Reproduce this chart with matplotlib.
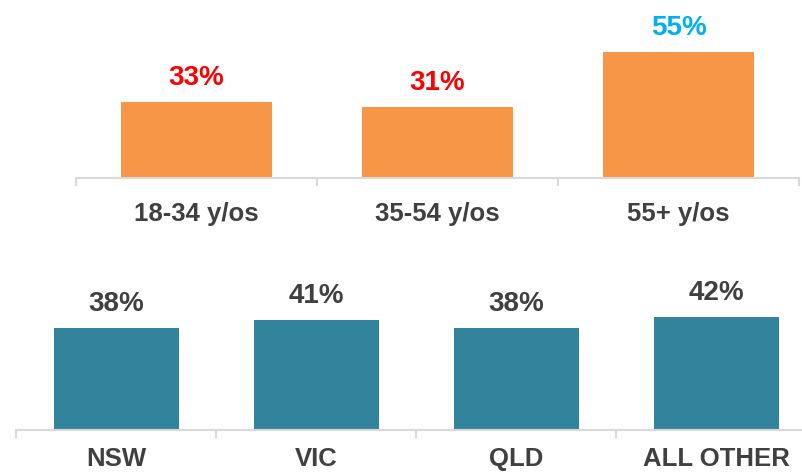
import numpy as np
import matplotlib.pyplot as plt

plt.rcParams['font.family'] = ['Liberation Sans', 'DejaVu Sans']

age_groups = ['18-34 y/os', '35-54 y/os', '55+ y/os']
age_values = [33, 31, 55]
age_label_colors = ['#FF0000', '#FF0000', '#00B0F0']

states = ['NSW', 'VIC', 'QLD', 'ALL OTHER']
state_values = [38, 41, 38, 42]

TEXT = '#404040'
AXIS = '#D9D9D9'


def style_axis(ax, labels, tick_pad):
    n = len(labels)
    ax.set_xlim(-0.5, n - 0.5)
    for side in ['top', 'right', 'left']:
        ax.spines[side].set_visible(False)
    ax.spines['bottom'].set_color(AXIS)
    ax.spines['bottom'].set_linewidth(1.5)
    ax.set_yticks([])
    ax.set_xticks(np.arange(n))
    ax.set_xticklabels(labels, fontsize=18.5, fontweight='bold', color=TEXT)
    ax.set_xticks(np.arange(n + 1) - 0.5, minor=True)
    ax.tick_params(axis='x', which='major', length=0, pad=tick_pad)
    ax.tick_params(axis='x', which='minor', length=6, width=1.5, color=AXIS)


def add_labels(ax, bars, values, colors):
    for b, v, c in zip(bars, values, colors):
        ax.annotate(f'{v}%', (b.get_x() + b.get_width() / 2, b.get_height()),
                    xytext=(0, 12), textcoords='offset points',
                    ha='center', va='baseline', fontsize=20,
                    fontweight='bold', color=c, annotation_clip=False)


fig = plt.figure(figsize=(8.02, 4.72), dpi=100)

# top panel: age groups
ax1 = fig.add_axes([76 / 802, 1 - 178 / 472, 723 / 802, 178 / 472])
bars1 = ax1.bar(np.arange(len(age_groups)), age_values, width=0.627,
                color='#F79646')
ax1.set_ylim(0, 178 / 2.3)
style_axis(ax1, age_groups, 17)
add_labels(ax1, bars1, age_values, age_label_colors)

# bottom panel: states
ax2 = fig.add_axes([16 / 802, 1 - 430 / 472, 800 / 802, 150 / 472])
bars2 = ax2.bar(np.arange(len(states)), state_values, width=0.625,
                color='#31849B')
ax2.set_ylim(0, 150 / 2.69)
style_axis(ax2, states, 12)
add_labels(ax2, bars2, state_values, [TEXT] * len(states))

fig.savefig('out.png', dpi=100)
